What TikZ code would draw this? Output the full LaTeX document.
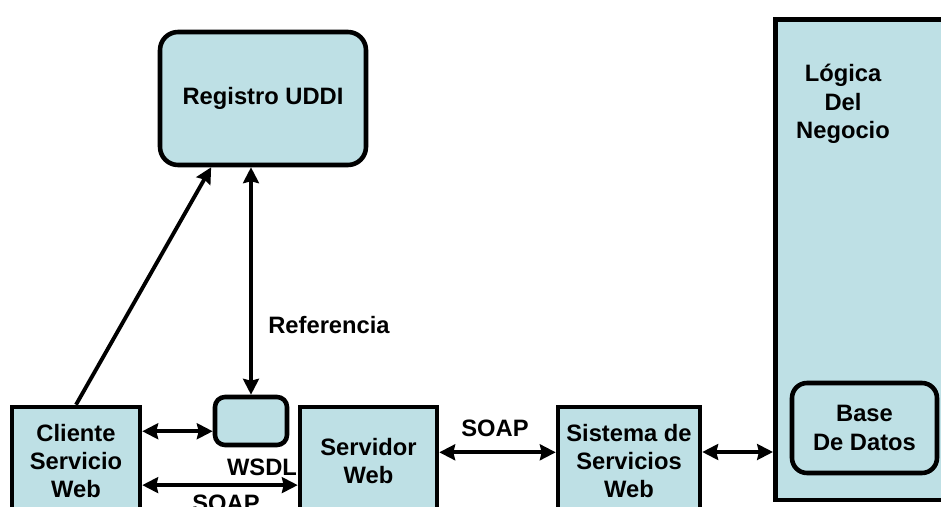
\documentclass[tikz,border=0pt]{standalone}
\usepackage{fontspec}
\setmainfont{Liberation Sans}
\usepackage{tikz}
\usetikzlibrary{arrows.meta}

\definecolor{celeste}{RGB}{190,224,229}
\tikzset{
  caja/.style={draw, line width=2.6pt, fill=celeste, align=center,
    font=\fontsize{13.5}{16.2}\selectfont\bfseries, inner sep=0pt},
  redonda/.style={caja, rounded corners=#1},
  flecha/.style={line width=2.2pt, >={Stealth[length=9pt,width=9pt,inset=1pt]}},
  etiq/.style={font=\fontsize{13.5}{16.2}\selectfont\bfseries, inner sep=0pt}
}

\begin{document}
\begin{tikzpicture}[x=0.02cm,y=-0.02cm]
    \clip (0,0) rectangle (941,507);
    \fill[white] (0,0) rectangle (941,507);
    % cajas
    \node[redonda=0.36cm, minimum width=4.12cm, minimum height=2.66cm] (registro) at (263,98.5) {Registro UDDI};
    \node[caja, minimum width=2.56cm, minimum height=2.16cm] (cliente) at (76,461) {Cliente\\Servicio\\Web};
    \node[redonda=0.2cm, minimum width=1.44cm, minimum height=0.96cm] (wsdl) at (251,421) {};
    \node[caja, minimum width=2.74cm, minimum height=2.16cm] (servidor) at (368.5,461) {Servidor\\Web};
    \node[caja, minimum width=2.84cm, minimum height=2.16cm] (sistema) at (629,461) {Sistema de\\Servicios\\Web};
    \node[caja, anchor=north west, minimum width=3.8cm, minimum height=9.62cm] (logica) at (773,17) {};
    \node[etiq, align=center] (logtxt) at (843,104) {Lógica\\Del\\Negocio};
    \node[redonda=0.3cm, minimum width=2.9cm, minimum height=1.8cm] (base) at (864.5,428) {Base\\De Datos};
    % flechas
    \draw[flecha,->] (cliente.north) -- (registro.233);
    \draw[flecha,<->] (wsdl.north) -- (wsdl.north |- registro.south);
    \draw[flecha,<->] (wsdl.195 -| cliente.east) -- (wsdl.195);
    \draw[flecha,<->] (cliente.-20) -- (cliente.-20 -| servidor.west);
    \draw[flecha,<->] (servidor.7) -- (servidor.7 -| sistema.west);
    \draw[flecha,<->] (sistema.7) -- (sistema.7 -| logica.west);
    % etiquetas
    \node[etiq, anchor=west] (referencia) at (268,325) {Referencia};
    \node[etiq] (wsdltxt) at (262,467) {WSDL};
    \node[etiq] (soapbajo) at (226,503) {SOAP};
    \node[etiq] (soapalto) at (495,428) {SOAP};
\end{tikzpicture}
\end{document}
